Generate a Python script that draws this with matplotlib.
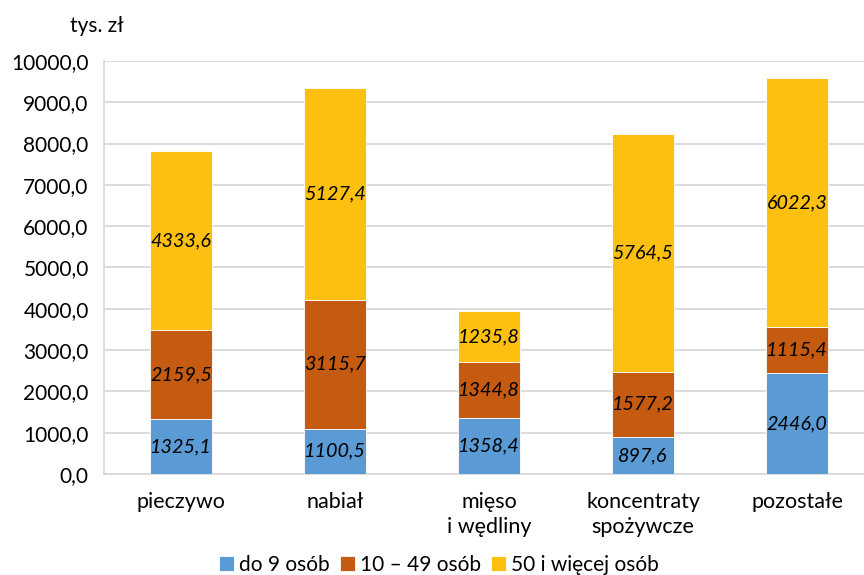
import numpy as np
import matplotlib
matplotlib.use('Agg')
import matplotlib.pyplot as plt

plt.rcParams['font.family'] = ['Lato', 'DejaVu Sans']

# Data (tys. zł)
categories = ['pieczywo', 'nabiał', 'mięso\ni wędliny', 'koncentraty\nspożywcze', 'pozostałe']
series_names = ['do 9 osób', '10 – 49 osób', '50 i więcej osób']
small = [1325.1, 1100.5, 1358.4, 897.6, 2446.0]
medium = [2159.5, 3115.7, 1344.8, 1577.2, 1115.4]
large = [4333.6, 5127.4, 1235.8, 5764.5, 6022.3]
y_ticks = np.arange(0, 10001, 1000)

colors = ['#5B9BD5', '#C55A11', '#FDC010']

fig = plt.figure(figsize=(8.64, 5.75), dpi=100)
ax = fig.add_axes([0.1204, 0.1757, 0.8912, 0.7183])

x = np.arange(len(categories))
bottom = np.zeros(len(categories))
for values, name, color in zip([small, medium, large], series_names, colors):
    ax.bar(x, values, width=0.4, bottom=bottom, color=color, label=name,
           edgecolor='white', linewidth=0.6, zorder=3)
    for xi, b, v in zip(x, bottom, values):
        ax.text(xi, b + v / 2, f'{v:.1f}'.replace('.', ','), ha='center', va='center',
                fontsize=14.2, fontstyle='italic', color='black', zorder=4)
    bottom += np.array(values)

ax.set_xlim(-0.5, len(categories) - 0.5)
ax.set_ylim(0, 10000)
ax.set_yticks(y_ticks)
ax.set_yticklabels([f'{t:.1f}'.replace('.', ',') for t in y_ticks], fontsize=15)
ax.set_xticks(x)
ax.set_xticklabels(categories, fontsize=15.5, linespacing=1.3)
ax.tick_params(axis='y', length=0, pad=11)
ax.tick_params(axis='x', length=0, pad=13)

ax.grid(axis='y', color='#D9D9D9', linewidth=1.3, zorder=0)
for side in ['top', 'right']:
    ax.spines[side].set_visible(False)
ax.spines['left'].set_color('#D9D9D9')
ax.spines['left'].set_linewidth(1.3)
ax.spines['bottom'].set_color('#D9D9D9')
ax.spines['bottom'].set_linewidth(1.3)

fig.text(0.112, 0.955, 'tys. zł', ha='center', va='center', fontsize=15)

fig.legend(loc='center', bbox_to_anchor=(0.508, 0.018), ncol=3, frameon=False,
           fontsize=15, handlelength=0.7, handleheight=0.7, handletextpad=0.25,
           columnspacing=0.5, borderaxespad=0)

fig.savefig('out.png', dpi=100)
